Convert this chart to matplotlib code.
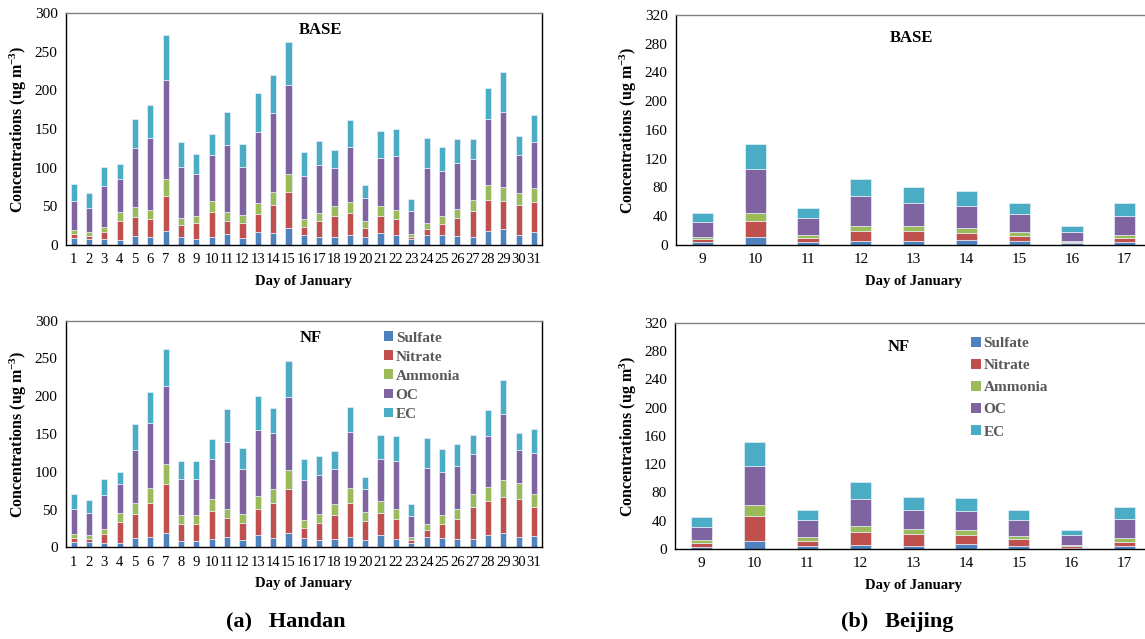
import numpy as np
import matplotlib
matplotlib.use("Agg")
import matplotlib.pyplot as plt
from matplotlib.patches import Patch

plt.rcParams['font.family'] = ['Liberation Serif', 'DejaVu Serif']
plt.rcParams['mathtext.fontset'] = 'custom'
plt.rcParams['mathtext.rm'] = 'Liberation Serif:bold'
plt.rcParams['mathtext.default'] = 'rm'

species = ["Sulfate", "Nitrate", "Ammonia", "OC", "EC"]
colors = ["#4F81BD", "#C0504D", "#9BBB59", "#8064A2", "#4BACC6"]

hd_days = list(range(1, 32))
bj_days = list(range(9, 18))

# Handan BASE (sulfate, nitrate, ammonia, OC, EC) per day
hd_base_sulfate = [8.6, 8.2, 7.8, 6.5, 11.7, 10.8, 18.6, 10.0, 8.2, 10.8, 14.7, 8.6, 16.8, 15.5, 22.4, 12.5,
                   10.4, 10.0, 12.5, 10.0, 15.1, 12.5, 7.3, 13.4, 12.5, 11.2, 10.4, 18.1, 20.3, 12.5, 16.8]
hd_base_nitrate = [5.2, 3.5, 9.5, 25.0, 25.0, 22.9, 45.3, 15.9, 20.3, 32.4, 16.8, 20.3, 23.8, 36.7, 46.6, 11.2,
                   20.7, 28.0, 29.4, 12.4, 22.9, 21.6, 3.1, 7.3, 15.1, 23.3, 33.6, 40.6, 36.2, 38.9, 39.3]
hd_base_ammonia = [5.6, 5.1, 6.4, 11.2, 12.1, 11.6, 21.1, 9.1, 9.0, 13.8, 11.2, 9.9, 13.4, 16.8, 22.9, 9.5,
                   10.3, 12.9, 13.3, 8.2, 12.9, 11.2, 3.8, 7.4, 9.9, 12.1, 14.3, 19.0, 18.6, 16.4, 17.7]
hd_base_oc = [38.0, 31.5, 53.1, 43.2, 77.2, 93.7, 127.8, 66.4, 54.9, 59.1, 86.8, 62.6, 92.7, 102.3, 114.4, 56.6,
              62.6, 48.8, 72.1, 30.7, 61.3, 69.9, 29.4, 72.0, 58.7, 59.1, 53.5, 85.0, 97.5, 49.2, 60.0]
hd_base_ec = [21.6, 18.7, 24.2, 19.4, 36.7, 41.8, 59.1, 32.0, 25.0, 27.2, 43.1, 28.9, 49.7, 48.0, 56.5, 30.6,
              30.7, 23.3, 34.5, 16.4, 35.4, 35.0, 16.0, 38.4, 31.1, 31.1, 25.4, 40.6, 50.5, 24.1, 34.5]

# Handan NF
hd_nf_sulfate = [7.5, 7.5, 6.2, 5.7, 11.9, 13.2, 18.5, 7.9, 7.9, 11.0, 13.7, 9.3, 15.9, 12.8, 19.4, 11.9,
                 9.3, 10.6, 13.2, 10.1, 15.9, 11.5, 6.2, 13.7, 12.8, 11.5, 10.6, 15.9, 18.5, 13.2, 15.0]
hd_nf_nitrate = [5.3, 3.5, 11.0, 28.3, 32.7, 45.9, 65.3, 23.4, 23.4, 37.5, 24.7, 23.3, 35.3, 46.3, 58.2, 14.1,
                 23.3, 32.6, 45.9, 24.7, 30.0, 26.4, 3.9, 8.8, 18.5, 26.4, 42.3, 45.0, 48.5, 51.2, 37.9]
hd_nf_ammonia = [4.4, 4.9, 6.6, 11.0, 14.5, 19.0, 26.5, 11.0, 11.0, 15.0, 12.8, 11.5, 16.3, 18.1, 24.7, 9.7,
                 11.1, 13.7, 19.0, 12.0, 15.0, 12.8, 3.1, 8.4, 11.5, 12.4, 17.7, 18.9, 21.7, 21.2, 17.2]
hd_nf_oc = [34.0, 30.0, 45.9, 38.4, 70.1, 86.9, 103.7, 48.6, 48.6, 53.8, 88.6, 59.6, 88.2, 73.7, 97.1, 53.0,
            52.5, 47.2, 74.1, 30.8, 56.4, 64.0, 28.7, 73.6, 57.3, 56.9, 52.5, 68.0, 88.2, 43.6, 54.7]
hd_nf_ec = [19.4, 16.7, 20.7, 16.3, 34.0, 40.6, 48.0, 23.4, 23.4, 25.6, 43.2, 27.3, 44.6, 33.0, 46.7, 28.2,
            25.1, 22.9, 34.0, 15.9, 31.8, 32.6, 15.4, 40.2, 30.5, 29.5, 25.1, 33.5, 44.5, 21.7, 31.4]

# Beijing BASE
bj_base_sulfate = [3.7, 10.7, 3.7, 5.6, 5.6, 7.0, 5.6, 2.3, 4.6]
bj_base_nitrate = [4.6, 23.2, 6.5, 14.3, 14.3, 10.2, 7.4, 1.4, 5.6]
bj_base_ammonia = [3.3, 11.1, 3.7, 7.0, 7.0, 6.0, 4.6, 2.3, 3.7]
bj_base_oc = [20.4, 60.8, 23.2, 40.8, 31.1, 31.5, 25.1, 12.1, 26.9]
bj_base_ec = [12.0, 35.2, 14.4, 24.1, 22.2, 20.0, 15.7, 7.9, 17.6]

# Beijing NF
bj_nf_sulfate = [3.3, 11.3, 4.7, 6.1, 4.7, 6.6, 4.7, 1.9, 4.7]
bj_nf_nitrate = [5.2, 35.8, 7.1, 18.4, 17.0, 13.7, 9.0, 1.9, 5.7]
bj_nf_ammonia = [4.2, 15.1, 5.2, 8.0, 7.0, 6.6, 5.2, 1.9, 4.7]
bj_nf_oc = [18.9, 55.6, 23.5, 38.7, 26.9, 27.3, 22.6, 13.6, 26.8]
bj_nf_ec = [13.2, 33.0, 14.6, 23.1, 18.4, 17.9, 13.6, 7.6, 17.5]


def stacked(ax, days, series, ylim, ystep, xfs):
    bottom = np.zeros(len(days))
    for vals, c in zip(series, colors):
        vals = np.array(vals)
        ax.bar(days, vals, 0.4, bottom=bottom, color=c, edgecolor='#e8eef6', linewidth=0.5)
        bottom += vals
    ax.set_xlim(days[0] - 0.5, days[-1] + 0.5)
    ax.set_ylim(0, ylim)
    ax.set_xticks(days)
    ax.set_yticks(np.arange(0, ylim + 1, ystep))
    ax.tick_params(length=0, pad=6)
    ax.tick_params(axis='x', labelsize=xfs)
    ax.tick_params(axis='y', labelsize=11)
    for s in ax.spines.values():
        s.set_linewidth(1.0)
    ax.spines['top'].set_color('#808080')
    ax.set_xlabel("Day of January", fontsize=10.5, fontweight='bold', labelpad=6)


fig = plt.figure(figsize=(11.45, 6.39), dpi=100)

ax1 = fig.add_axes([0.0576, 0.6166, 0.4155, 0.363])
stacked(ax1, hd_days, [hd_base_sulfate, hd_base_nitrate, hd_base_ammonia, hd_base_oc, hd_base_ec], 300, 50, 10.5)
ax1.set_ylabel("Concentrations (ug m$^{-3}$)", fontsize=11.5, fontweight='bold', labelpad=4)
ax1.text(0.535, 0.925, "BASE", transform=ax1.transAxes, ha='center', va='center', fontsize=12, fontweight='bold')

ax2 = fig.add_axes([0.0576, 0.1435, 0.4155, 0.3546])
stacked(ax2, hd_days, [hd_nf_sulfate, hd_nf_nitrate, hd_nf_ammonia, hd_nf_oc, hd_nf_ec], 300, 50, 10.5)
ax2.set_ylabel("Concentrations (ug m$^{-3}$)", fontsize=11.5, fontweight='bold', labelpad=4)
ax2.text(0.514, 0.924, "NF", transform=ax2.transAxes, ha='center', va='center', fontsize=12, fontweight='bold')

ax3 = fig.add_axes([0.5904, 0.6166, 0.415, 0.360])
stacked(ax3, bj_days, [bj_base_sulfate, bj_base_nitrate, bj_base_ammonia, bj_base_oc, bj_base_ec], 320, 40, 11)
ax3.set_ylabel("Concentrations (ug m$^{-3}$)", fontsize=11.5, fontweight='bold', labelpad=4)
ax3.text(0.495, 0.9, "BASE", transform=ax3.transAxes, ha='center', va='center', fontsize=12, fontweight='bold')

ax4 = fig.add_axes([0.5898, 0.1408, 0.4155, 0.354])
stacked(ax4, bj_days, [bj_nf_sulfate, bj_nf_nitrate, bj_nf_ammonia, bj_nf_oc, bj_nf_ec], 320, 40, 11)
ax4.set_ylabel("Concentrations (ug m$^{3}$)", fontsize=11.5, fontweight='bold', labelpad=4)
ax4.text(0.47, 0.894, "NF", transform=ax4.transAxes, ha='center', va='center', fontsize=12, fontweight='bold')

handles = [Patch(facecolor=c, edgecolor='none') for c in colors]
for ax, x, y, sp in [(ax2, 0.645, 1.0, 0.38), (ax4, 0.60, 0.985, 0.58)]:
    leg = ax.legend(handles, species, loc='upper left', bbox_to_anchor=(x, y), frameon=False,
                    prop={'weight': 'bold', 'size': 11}, handlelength=0.6, handleheight=0.6,
                    handletextpad=0.2, labelspacing=sp, borderaxespad=0.3)
    for t in leg.get_texts():
        t.set_color('#595959')

fig.text(0.25, 0.027, "(a)   Handan", ha='center', va='center', fontsize=16, fontweight='bold')
fig.text(0.784, 0.027, "(b)   Beijing", ha='center', va='center', fontsize=16, fontweight='bold')

fig.savefig("out.png", dpi=100)
